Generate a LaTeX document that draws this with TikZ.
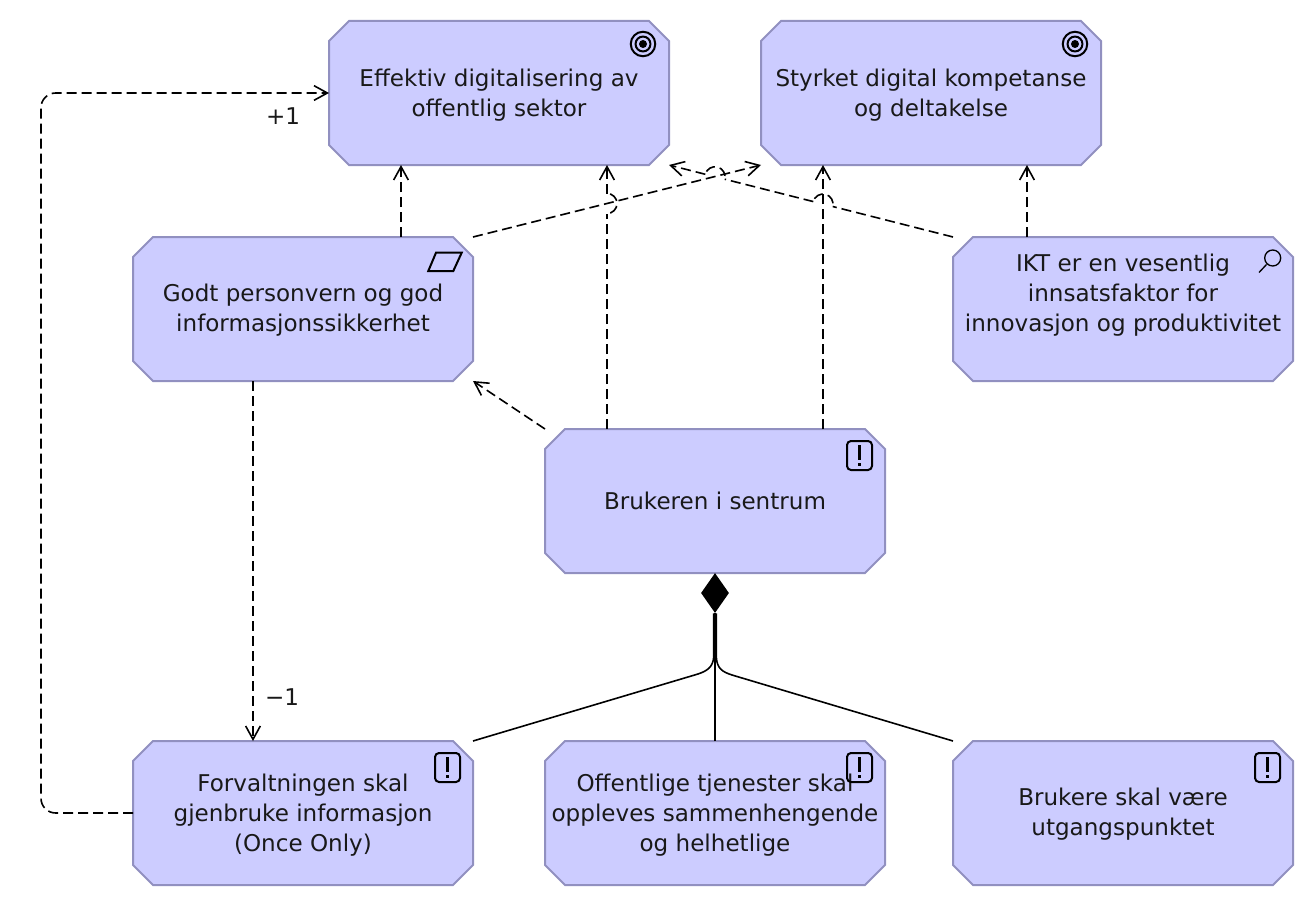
\documentclass[tikz,border=0pt]{standalone}
\usepackage{fontspec}
\setmainfont{DejaVu Sans}
\usetikzlibrary{arrows.meta,shapes.geometric}
\definecolor{boxfill}{HTML}{CCCCFF}
\definecolor{boxline}{HTML}{9190C0}
\tikzset{
  concept/.style={rectangle, minimum width=255pt, minimum height=108pt, inner sep=0pt, outer sep=0pt},
  conceptline/.style={draw=boxline, fill=boxfill, line width=1.5pt},
  concepttext/.style={inner sep=0pt, align=center, text=black!90, font=\fontsize{17.3}{22.5}\selectfont},
  dep/.style={line width=1.2pt, dash pattern=on 7.5pt off 3.75pt},
  hopline/.style={dep, dash phase=8.85pt},
  icon/.style={line width=1.5pt, black},
  lbl/.style={font=\fontsize{17.3}{20}\selectfont, text=black!90, inner sep=0pt}
}
\begin{document}
\begin{tikzpicture}[x=0.75pt, y=-0.75pt, >={Straight Barb[length=10pt,width=11pt]}]
  \useasboundingbox (0,0) rectangle (1314,906);
  \foreach \n/\x/\y/\dy/\txt in {
    eff/499/93/2/{Effektiv digitalisering av\\offentlig sektor},
    sty/931/93/2/{Styrket digital kompetanse\\og deltakelse},
    pv/303/309/1/{Godt personvern og god\\informasjonssikkerhet},
    ikt/1123/309/-1/{IKT er en vesentlig\\innsatsfaktor for\\innovasjon og produktivitet\\\mbox{}},
    bru/715/501/0/{Brukeren i sentrum},
    forvalt/303/813/2/{Forvaltningen skal\\gjenbruke informasjon\\(Once Only)},
    off/715/813/2/{Offentlige tjenester skal\\oppleves sammenhengende\\og helhetlige},
    ute/1123/813/1/{Brukere skal være\\utgangspunktet}} {
    \node [concept] (\n) at (\x,\y) {};
    \draw [conceptline, shift={(\x,\y)}] (-170,-52) -- (-150,-72) -- (150,-72) -- (170,-52)
      -- (170,52) -- (150,72) -- (-150,72) -- (-170,52) -- cycle;
    \node [concepttext] (\n text) at (\x,\y+\dy) {\txt};
  }
  \node [diamond, fill=black, inner sep=0pt, minimum width=21pt, minimum height=30pt] (comp) at (715,593) {};
  \node [lbl] (plus) at (283,116) {+1};
  \node [lbl] (minus) at (282,697) {−1};

  \coordinate (hopa) at (607,213.5);
  \coordinate (hopb) at (832.7,206.5);
  \coordinate (hopc) at (724.7,179.2);
  \coordinate (railb) at (41,813);
  \coordinate (railt) at (41,93);
  \coordinate (forkl) at (698,674);
  \coordinate (forkr) at (732,675);

  \draw [dep,->] ([xshift=73.5pt]pv.north) -- ([xshift=-73.5pt]eff.south);
  \draw [dep] ([xshift=-81pt]bru.north) -- (hopa);
  \draw [hopline] (hopa) arc [start angle=-90, end angle=90, radius=7.5pt] coordinate (hopaend);
  \draw [dep,->] (hopaend) -- ([xshift=81pt]eff.south);
  \draw [dep,->] ([xshift=81pt]bru.north) -- ([xshift=-81pt]sty.south);
  \draw [dep,->] ([xshift=-72pt]ikt.north) -- ([xshift=72pt]sty.south);
  \draw [dep,->] ([xshift=127.5pt]pv.north) -- ([xshift=-127.5pt]sty.south);
  \draw [dep] ([xshift=-127.5pt]ikt.north) -- (hopb);
  \draw [hopline] (hopb) arc [start angle=-14.2, end angle=165.8, radius=7.5pt] coordinate (hopbend);
  \draw [dep] (hopbend) -- (hopc);
  \draw [hopline] (hopc) arc [start angle=-14.2, end angle=165.8, radius=7.5pt] coordinate (hopcend);
  \draw [dep,->] (hopcend) -- ([xshift=127.5pt]eff.south);
  \draw [dep,->] ([xshift=-127.5pt]bru.north) -- ([xshift=127.5pt]pv.south);
  \draw [dep,->] ([xshift=-37.5pt]pv.south) -- ([xshift=-37.5pt]forvalt.north);
  \draw [dep,->,rounded corners=11pt] (forvalt.west) -- (railb) -- (railt) -- (eff.west);

  \draw [line width=1.2pt] (off.north) -- (comp.south);
  \draw [line width=1.2pt] ([xshift=127.5pt]forvalt.north) -- (forkl)
    .. controls (707,671) and (713,667) .. ([xshift=-1pt,yshift=-33pt]comp.south) -- ([xshift=-1pt]comp.south);
  \draw [line width=1.2pt] ([xshift=-127.5pt]ute.north) -- (forkr)
    .. controls (723,672) and (717,669) .. ([xshift=1pt,yshift=-33pt]comp.south) -- ([xshift=1pt]comp.south);

  \foreach \n in {eff,sty} {
    \begin{scope}[shift={(\n.center)}]
      \draw [icon] (144,-49) circle (9.2pt);
      \draw [icon] (144,-49) circle (5.6pt);
      \fill (144,-49) circle (3pt);
    \end{scope}
  }
  \foreach \n in {bru,forvalt,off,ute} {
    \begin{scope}[shift={(\n.center)}]
      \draw [icon, rounded corners=3pt] (132,-60) rectangle (157,-31);
      \draw [line width=2.6pt] (144.5,-56) -- (144.5,-41);
      \fill (142.8,-38.5) rectangle (146.2,-35);
    \end{scope}
  }
  \begin{scope}[shift={(pv.center)}]
    \draw [icon] (125.3,-38) -- (133,-56.3) -- (158.7,-56.3) -- (150.3,-38) -- cycle;
  \end{scope}
  \begin{scope}[shift={(ikt.center)}]
    \draw [line width=1pt] (149.7,-51) circle (6pt);
    \draw [line width=1pt] (143.5,-44.5) -- (136,-36.5);
  \end{scope}
\end{tikzpicture}
\end{document}
